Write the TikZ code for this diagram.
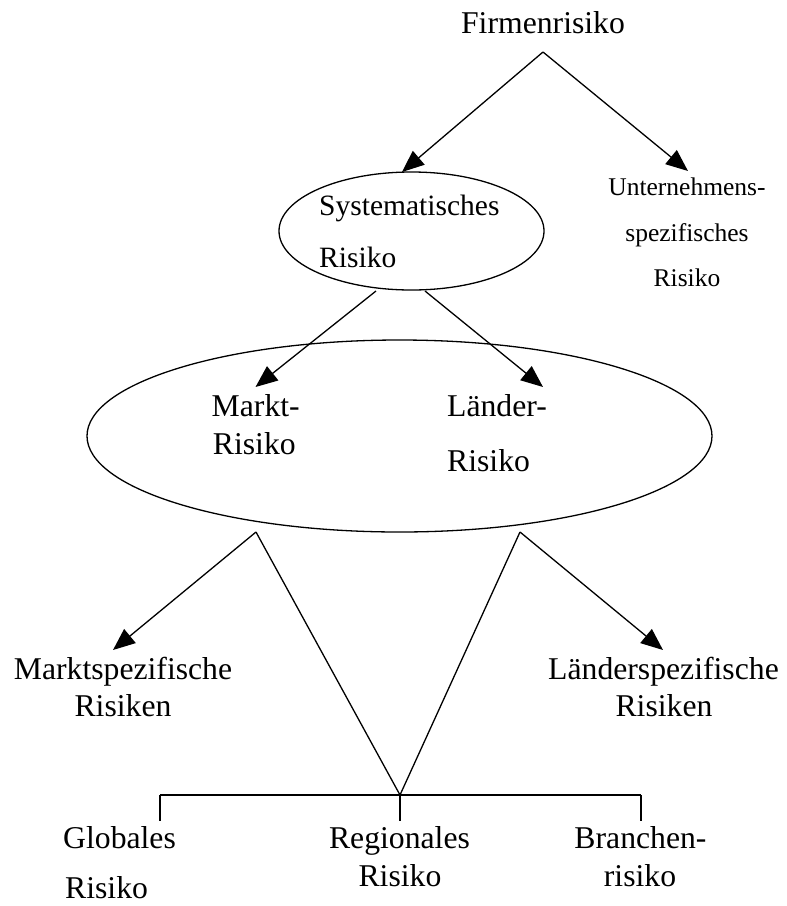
\documentclass[tikz,border=0pt]{standalone}
\usepackage{fontspec}
\setmainfont{Liberation Serif}
\usetikzlibrary{arrows.meta,shapes.geometric}
\begin{document}
\begin{tikzpicture}[x=1pt,y=-1pt,
  lbl/.style={font=\fontsize{31.7}{38}\selectfont, inner sep=0pt},
  lblsys/.style={font=\fontsize{29.5}{36}\selectfont, inner sep=0pt},
  lblsmall/.style={font=\fontsize{25.5}{30}\selectfont, inner sep=0pt},
  ell/.style={draw, line width=1.3pt, ellipse, inner sep=0pt},
  conn/.style={line width=1.3pt},
  arr/.style={conn, -{Triangle[length=22pt,width=18pt]}}]
\useasboundingbox (0,0) rectangle (787,906);
% ellipses
\node[ell, minimum width=265pt, minimum height=118pt] (sysell) at (411.5,231) {};
\node[ell, minimum width=625pt, minimum height=192pt] (bigell) at (399.5,436) {};
% labels
\node[lbl, anchor=base] (firm) at (543,33) {Firmenrisiko};
\node[lblsys, anchor=base west] (sysA) at (319,215) {Systematisches};
\node[lblsys, anchor=base west] (sysB) at (319,267) {Risiko};
\node[lblsmall, anchor=base] (untA) at (687,195) {Unternehmens-};
\node[lblsmall, anchor=base] (untB) at (687,241.5) {spezifisches};
\node[lblsmall, anchor=base] (untC) at (687,286.7) {Risiko};
\node[lbl, anchor=base west] (mktA) at (211.5,416.7) {Markt-};
\node[lbl, anchor=base west] (mktB) at (212.7,454) {Risiko};
\node[lbl, anchor=base west] (landA) at (447,416.7) {Länder-};
\node[lbl, anchor=base west] (landB) at (447,471.7) {Risiko};
\node[lbl, anchor=base] (mspA) at (123,679) {Marktspezifische};
\node[lbl, anchor=base] (mspB) at (123,716.7) {Risiken};
\node[lbl, anchor=base] (lspA) at (663.5,679) {Länderspezifische};
\node[lbl, anchor=base] (lspB) at (664,716.7) {Risiken};
\node[lbl, anchor=base west] (globA) at (63,848) {Globales};
\node[lbl, anchor=base west] (globB) at (65,898) {Risiko};
\node[lbl, anchor=base] (regA) at (399.5,848) {Regionales};
\node[lbl, anchor=base] (regB) at (400,886.7) {Risiko};
\node[lbl, anchor=base] (brA) at (640.5,848) {Branchen-};
\node[lbl, anchor=base] (brB) at (640,886.7) {risiko};
% connector points
\coordinate (firmOut) at (543,52);
\coordinate (sysIn) at (402,172);
\coordinate (untIn) at (688,171);
\coordinate (sysOutL) at (376,291);
\coordinate (sysOutR) at (425,291);
\coordinate (mktIn) at (255.5,387);
\coordinate (landIn) at (543,387);
\coordinate (bigOutL) at (256,532);
\coordinate (bigOutR) at (520,532);
\coordinate (mspIn) at (113,650);
\coordinate (lspIn) at (663,650);
\coordinate (hub) at (400,795);
\coordinate (barL) at (160,795);
\coordinate (barR) at (641,795);
\coordinate (globTop) at (160,821);
\coordinate (regTop) at (400,821);
\coordinate (brTop) at (641,821);
% connectors
\draw[arr] (firmOut) -- (sysIn);
\draw[arr] (firmOut) -- (untIn);
\draw[arr] (sysOutL) -- (mktIn);
\draw[arr] (sysOutR) -- (landIn);
\draw[arr] (bigOutL) -- (mspIn);
\draw[arr] (bigOutR) -- (lspIn);
\draw[conn] (bigOutL) -- (hub) -- (bigOutR);
\draw[conn] (barL) -- (barR);
\draw[conn] (barL) -- (globTop);
\draw[conn] (hub) -- (regTop);
\draw[conn] (barR) -- (brTop);
\end{tikzpicture}
\end{document}
